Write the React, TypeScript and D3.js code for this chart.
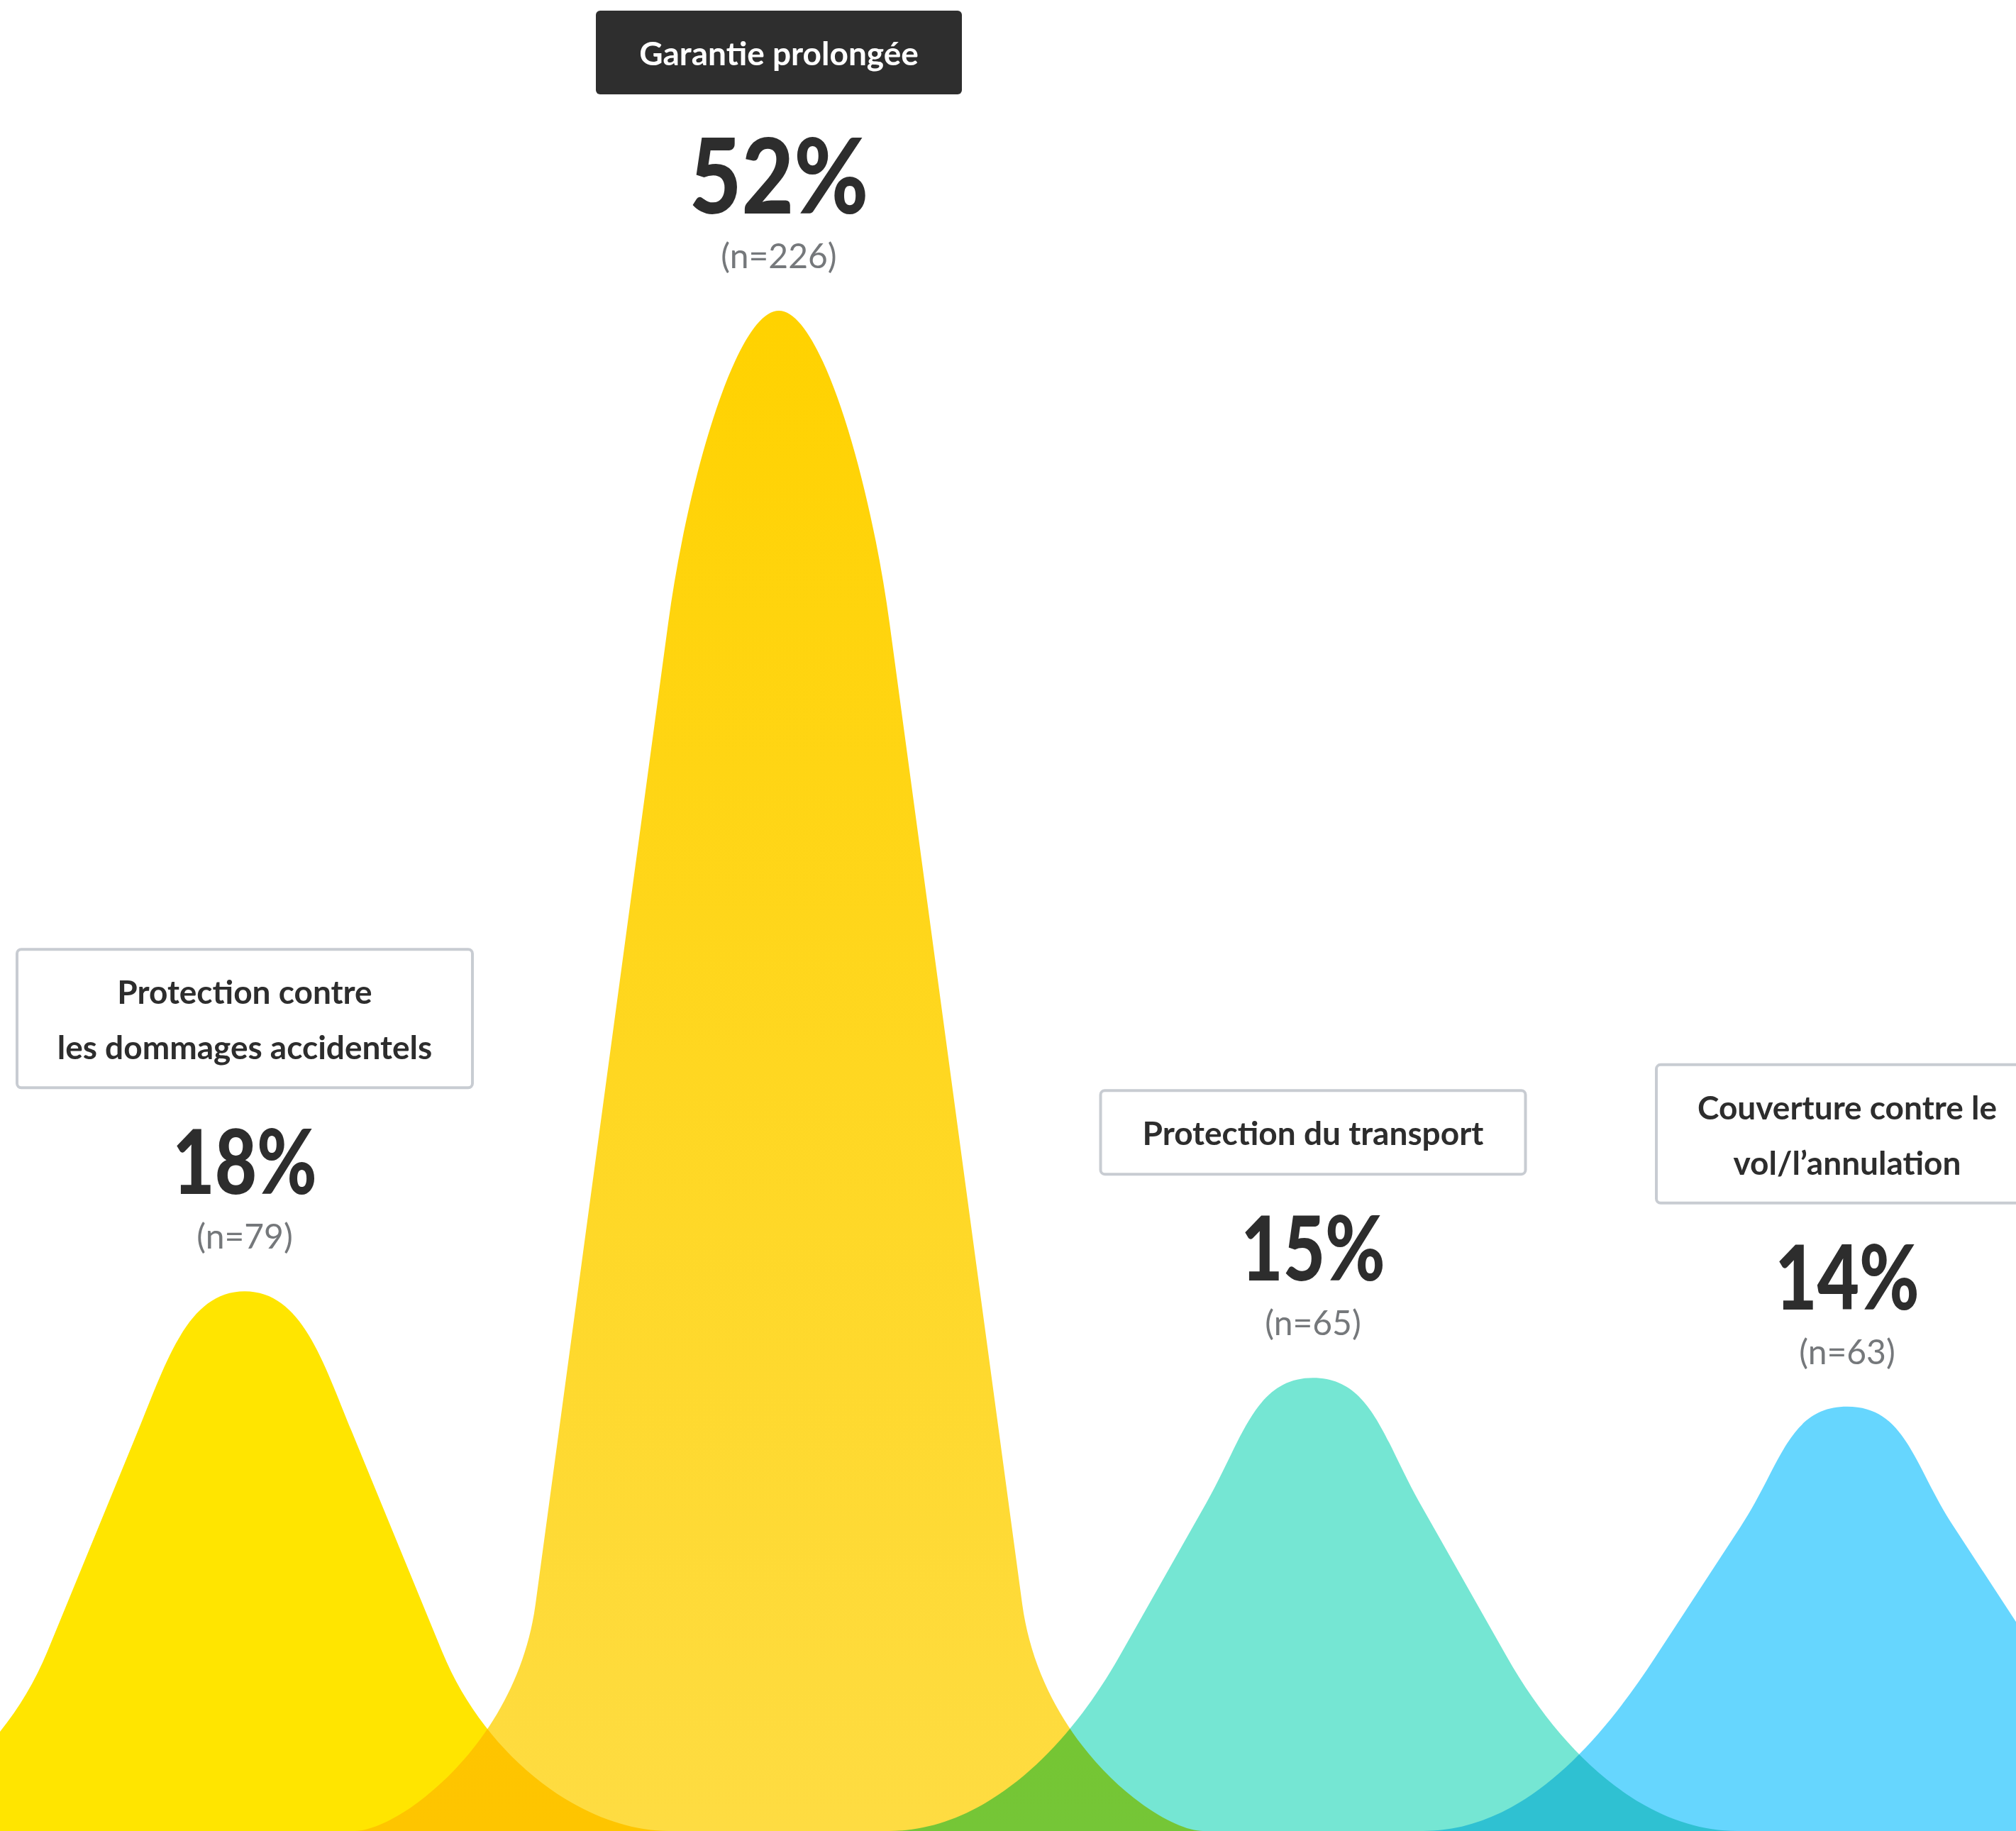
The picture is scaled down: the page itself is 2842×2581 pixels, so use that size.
import React from 'react';
import * as d3 from 'd3';

// ---- data ----
const categories = ['dommages', 'garantie', 'transport', 'vol'];
const labelLines: string[][] = [
  ['Protection contre', 'les dommages accidentels'],
  ['Garantie prolongée'],
  ['Protection du transport'],
  ['Couverture contre le', 'vol/l’annulation'],
];
const percentValues = [18, 52, 15, 14];
const sampleSizes = [79, 226, 65, 63];
const highlightIndex = 1;

// ---- layout / style ----
const WIDTH = 2842;
const HEIGHT = 2581;
const BASE = HEIGHT;
const COLORS = ['#FFE500', 'url(#gold-grad)', '#75E6D3', '#66D6FE'];
const BOX_W = [642, 516, 599, 538];
const FONT = "Lato, 'Open Sans', sans-serif";

const x = d3.scalePoint<string>().domain(categories).range([345, 2604]);
const y = d3.scaleLinear().domain([0, 52]).range([2552, 438]);
const shapeScale = d3.scaleLinear().domain([773, 2142]);

function bellPath(cx: number, peakY: number): string {
  const H = BASE - peakY;
  const s = (a: number, b: number) => shapeScale.copy().range([a, b])(H);
  const W = 598;
  const capH = s(200, 440);
  const Kw = s(151, 156);
  const Jh = s(253, 320);
  const Jw = s(279, 343);
  const fa = s(120, 60);
  const kf = s(150, 200);
  const kc = s(100, 200);
  const cc = s(80, 60);
  const Kh = H - capH;
  const m = (Jw - Kw) / (Kh - Jh);
  const P = (w: number, h: number, side: number): [number, number] => [cx + side * w, BASE - h];
  const p = d3.path();
  p.moveTo(...P(W, 0, -1));
  p.bezierCurveTo(...P(W - fa, 0, -1), ...P(Jw + m * kf, Jh - kf, -1), ...P(Jw, Jh, -1));
  p.lineTo(...P(Kw, Kh, -1));
  p.bezierCurveTo(...P(Kw - m * kc, Kh + kc, -1), ...P(cc, H, -1), ...P(0, H, -1));
  p.bezierCurveTo(...P(cc, H, 1), ...P(Kw - m * kc, Kh + kc, 1), ...P(Kw, Kh, 1));
  p.lineTo(...P(Jw, Jh, 1));
  p.bezierCurveTo(...P(Jw + m * kf, Jh - kf, 1), ...P(W - fa, 0, 1), ...P(W, 0, 1));
  p.closePath();
  return p.toString();
}

export default function App() {
  const goldPeak = y(percentValues[highlightIndex]);
  return (
    <div style={{ position: 'absolute', left: 0, top: 0 }}>
      <svg width={WIDTH} height={HEIGHT} viewBox={`0 0 ${WIDTH} ${HEIGHT}`} style={{ display: 'block', background: '#FFFFFF' }}>
        <defs>
          <linearGradient id="gold-grad" gradientUnits="userSpaceOnUse" x1={0} y1={goldPeak} x2={0} y2={BASE}>
            <stop offset="0" stopColor="#FFD200" />
            <stop offset="1" stopColor="#FEDC42" />
          </linearGradient>
        </defs>
        <rect x={0} y={0} width={WIDTH} height={HEIGHT} fill="#FFFFFF" />
        <g style={{ isolation: 'isolate' }}>
          {categories.map((c, i) => (
            <path key={c} d={bellPath(x(c) as number, y(percentValues[i]))} fill={COLORS[i]} style={{ mixBlendMode: 'multiply' }} />
          ))}
        </g>
        {categories.map((c, i) => {
          const cx = x(c) as number;
          const py = y(percentValues[i]);
          const big = i === highlightIndex;
          const pctSize = big ? 146 : 125;
          const pctBase = py - 137;
          const nBase = py - 60;
          const boxBottom = pctBase - (big ? 168 : 150);
          const lines = labelLines[i];
          const boxH = lines.length === 1 ? 118 : 195;
          const boxTop = boxBottom - boxH;
          const bw = BOX_W[i];
          return (
            <g key={c}>
              <rect
                x={cx - bw / 2}
                y={boxTop}
                width={bw}
                height={boxH}
                rx={6}
                fill={big ? '#2E2E2E' : '#FFFFFF'}
                stroke={big ? 'none' : '#C8CCD2'}
                strokeWidth={big ? 0 : 4}
              />
              {lines.map((ln, k) => (
                <text
                  key={k}
                  x={cx}
                  y={boxTop + 77 + k * 78}
                  textAnchor="middle"
                  fontFamily={FONT}
                  fontWeight={700}
                  fontSize={46}
                  fill={big ? '#FFFFFF' : '#2D2D2D'}
                >
                  {ln}
                </text>
              ))}
              <text
                transform={`translate(${cx},${pctBase}) scale(${big ? 0.87 : 0.82},1)`}
                textAnchor="middle"
                fontFamily={FONT}
                fontWeight={900}
                fontSize={pctSize}
                fill="#2D2D2D"
              >
                {`${percentValues[i]}%`}
              </text>
              <text
                x={cx}
                y={nBase}
                textAnchor="middle"
                fontFamily={FONT}
                fontWeight={400}
                fontSize={48}
                fill="#75787B"
              >
                {`(n=${sampleSizes[i]})`}
              </text>
            </g>
          );
        })}
      </svg>
    </div>
  );
}
